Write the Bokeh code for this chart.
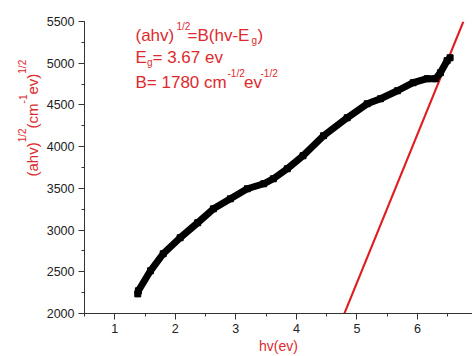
import math
from bokeh.plotting import figure
from bokeh.layouts import row
from bokeh.models import Range1d, SingleIntervalTicker, Label
from bokeh.embed import file_html
from bokeh.resources import INLINE

# ---- data ----
hv = [1.38, 1.39, 1.59, 1.80, 2.08, 2.37, 2.63, 2.91, 3.19, 3.46, 3.62, 3.85,
      4.11, 4.45, 4.84, 5.17, 5.39, 5.67, 5.93, 6.16, 6.30, 6.38, 6.49, 6.54]
ahv_half = [2235, 2272, 2512, 2716, 2908, 3088, 3255, 3375, 3495, 3555, 3615, 3735,
            3891, 4131, 4346, 4514, 4574, 4670, 4766, 4814, 4814, 4886, 5030, 5066]
Eg = 3.67
B = 1780
fit_y = [2000, 5500]
fit_x = [Eg + v / B for v in fit_y]

RED = "#dd2a2e"
LINE_RED = "#e01b1f"
FONT = "Liberation Sans"

TW = 42  # width of the strip that carries the rotated y title

p = figure(width=472 - TW, height=356, output_backend="svg", toolbar_location=None,
           x_range=Range1d(0.5, 6.91), y_range=Range1d(2000, 5500),
           min_border_left=84 - TW, min_border_right=0, min_border_top=21, min_border_bottom=43)
p.outline_line_color = None
p.xgrid.visible = False
p.ygrid.visible = False

p.xaxis.ticker = SingleIntervalTicker(interval=1, num_minor_ticks=2)
p.yaxis.ticker = SingleIntervalTicker(interval=500, num_minor_ticks=2)
for ax in (p.xaxis, p.yaxis):
    ax.axis_line_color = "#333333"
    ax.major_tick_line_color = "#333333"
    ax.minor_tick_line_color = "#333333"
    ax.major_tick_out = 6
    ax.major_tick_in = 0
    ax.minor_tick_out = 3
    ax.minor_tick_in = 0
    ax.major_label_text_font = FONT
    ax.major_label_text_font_size = "12.5px"
    ax.major_label_text_color = "#222222"
    ax.major_label_standoff = 4

p.xaxis.axis_label = "hv(ev)"
p.xaxis.axis_label_text_font = FONT
p.xaxis.axis_label_text_font_size = "14px"
p.xaxis.axis_label_text_font_style = "normal"
p.xaxis.axis_label_text_color = RED
p.xaxis.axis_label_standoff = 2

# fit line
p.line(fit_x, fit_y, line_color=LINE_RED, line_width=2)
# data curve
p.line(hv, ahv_half, line_color="black", line_width=7, line_join="round")
p.scatter(hv, ahv_half, marker="square", size=6, color="black")


def put(fig, fx, fy, txt, px, py, size, angle=0.0):
    fig.add_layout(Label(x=px - fx, y=fy - py, x_units="screen", y_units="screen",
                         text=txt, text_font=FONT, text_font_size=size,
                         text_color=RED, text_baseline="alphabetic",
                         text_align="left", angle=angle))


FX, FY = 84, 313  # frame left / bottom of the main plot in page px
# equation box
put(p, FX, FY, "(ahv)", 135, 35, "17px")
put(p, FX, FY, "1/2", 176, 26, "10px")
put(p, FX, FY, "=B(hv-E", 187, 35, "17px")
put(p, FX, FY, "g", 251, 40, "10px")
put(p, FX, FY, ")", 257, 35, "17px")
put(p, FX, FY, "E", 135, 56.7, "17px")
put(p, FX, FY, "g", 146.5, 61.5, "10px")
put(p, FX, FY, "= 3.67 ev", 152, 56.7, "17px")
put(p, FX, FY, "B= 1780 cm", 135, 81.7, "17px")
put(p, FX, FY, "-1/2", 227, 73, "10px")
put(p, FX, FY, "ev", 243.5, 81.7, "17px")
put(p, FX, FY, "-1/2", 260, 73, "10px")

# strip with the rotated y title
t = figure(width=TW, height=356, output_backend="svg", toolbar_location=None,
           x_axis_location=None, y_axis_location=None,
           x_range=Range1d(0, 1), y_range=Range1d(0, 1),
           min_border=0)
t.outline_line_color = None
t.xgrid.visible = False
t.ygrid.visible = False
a = math.pi / 2
put(t, 0, 356, "(ahv)", 32, 219, "15px", a)
put(t, 0, 356, "1/2", 22, 184.8, "10px", a)
put(t, 0, 356, "(cm", 32, 170.9, "15px", a)
put(t, 0, 356, "-1", 22, 145.9, "10px", a)
put(t, 0, 356, "ev)", 32, 137, "15px", a)
put(t, 0, 356, "1/2", 22, 116.2, "10px", a)

page = row(t, p)
open("out.html", "w").write(file_html(page, INLINE))
